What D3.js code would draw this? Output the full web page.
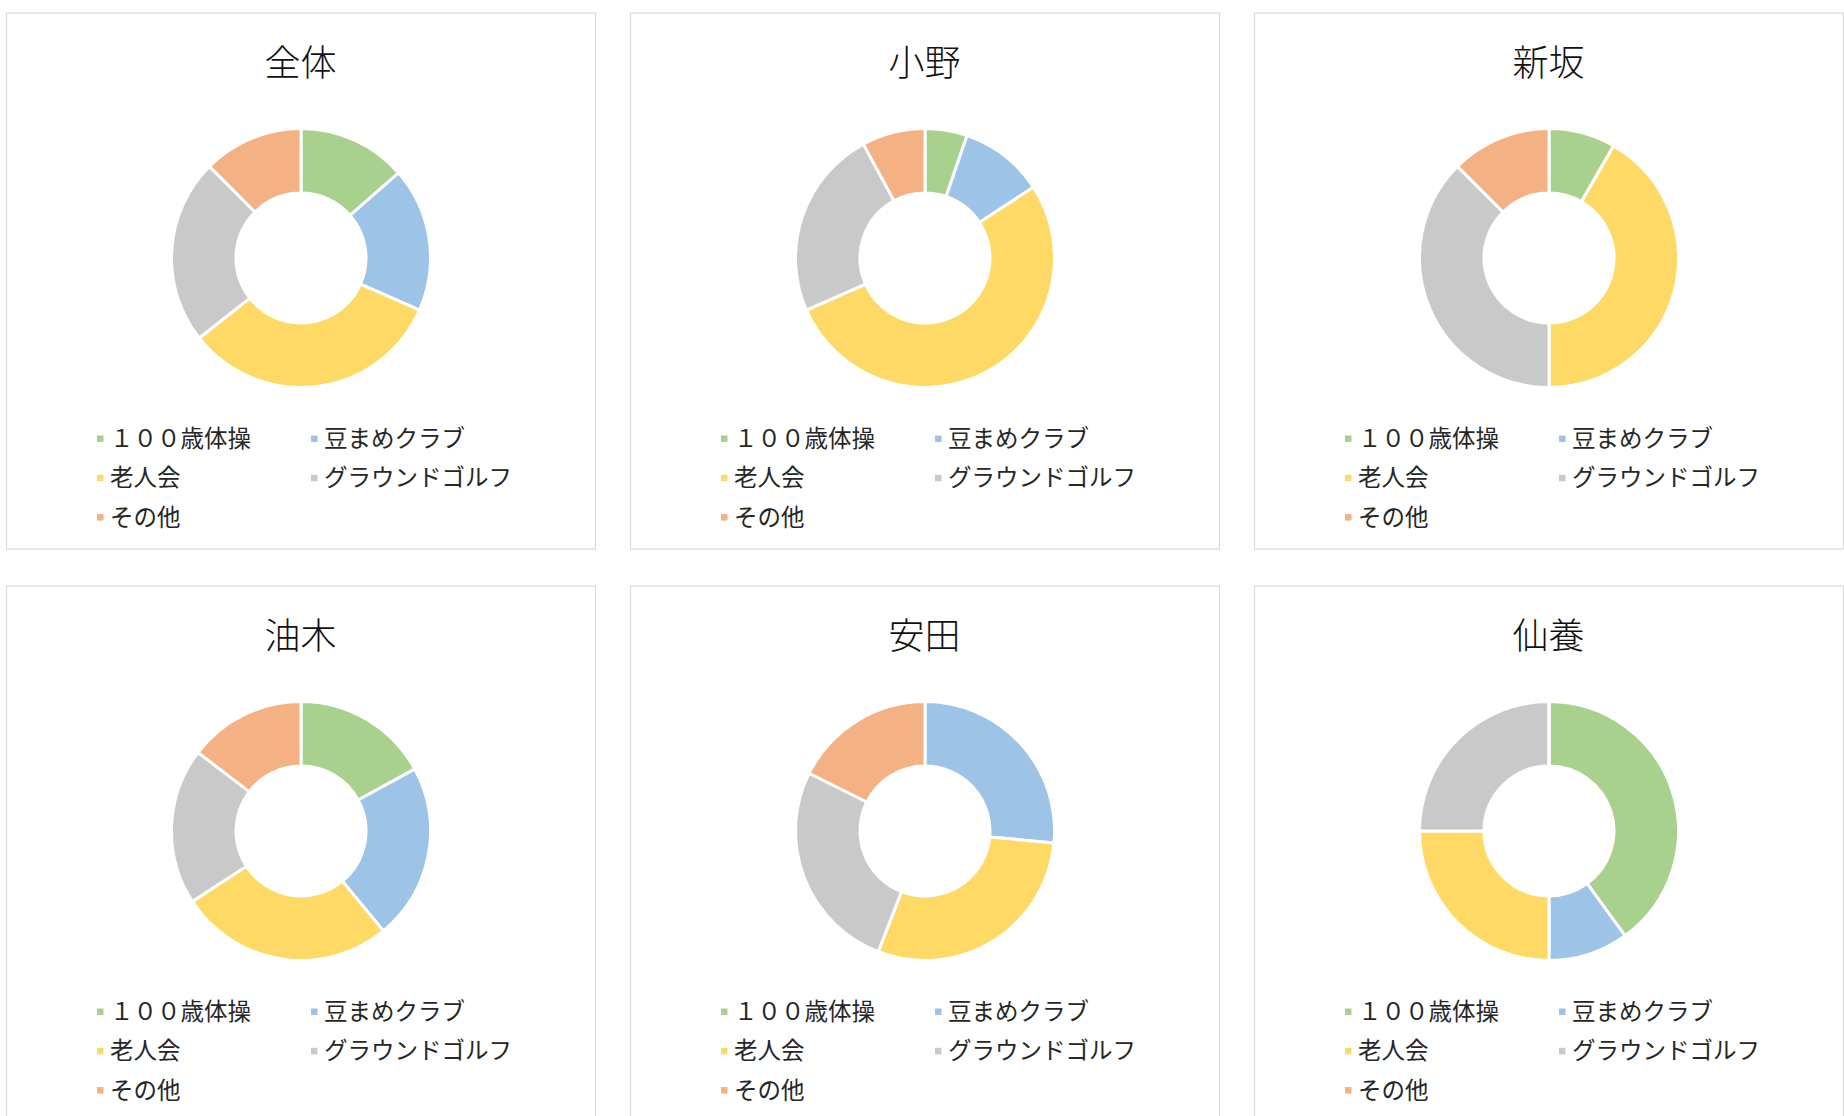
<!DOCTYPE html>
<html>
<head>
<meta charset="utf-8">
<script src="https://cdn.jsdelivr.net/npm/d3@7"></script>
<style>
  body { margin: 0; background: #fff; }
  text { font-family: "Noto Sans CJK JP", "Noto Sans", sans-serif; }
</style>
</head>
<body>
<svg id="chart" width="1844" height="1116"></svg>
<script>
// categories (legend order = slice order)
var categories = ["１００歳体操", "豆まめクラブ", "老人会", "グラウンドゴルフ", "その他"]
var colors = ["#A9D18E", "#9DC3E6", "#FFD966", "#C9C9C9", "#F4B183"]

var regions = ["全体", "小野", "新坂", "油木", "安田", "仙養"]

// values per region, same order as categories
var zentai   = [13.6, 18.0, 32.8, 23.1, 12.5]
var ono      = [2, 4, 20, 9, 3]
var shinsaka = [2, 0, 10, 9, 3]
var yuki     = [7, 9, 11, 8, 6]
var yasuda   = [0, 9, 10, 9, 6]
var senyo    = [8, 2, 5, 5, 0]

var seriesByRegion = [zentai, ono, shinsaka, yuki, yasuda, senyo]

var svg = d3.select("#chart")

var panelW = 589, panelH = 536
var panelX = 6, panelY = 12.5
var stepX = 624, stepY = 573

var pie = d3.pie().sort(null).value(d => d)
var arc = d3.arc().innerRadius(65).outerRadius(129.5)

regions.forEach(function(name, i){
	var col = i % 3, row = Math.floor(i / 3)
	var g = svg.append("g")
		.attr("transform", "translate(" + (panelX + col*stepX) + "," + (panelY + row*stepY) + ")")

	g.append("rect")
		.attr("x", 0.5).attr("y", 0.5)
		.attr("width", panelW).attr("height", panelH)
		.attr("fill", "#fff")
		.attr("stroke", "#D9D9D9")
		.attr("stroke-width", 1.2)

	g.append("text")
		.attr("x", panelW/2)
		.attr("y", 51)
		.attr("dy", "0.36em")
		.attr("text-anchor", "middle")
		.attr("font-size", 36)
		.attr("font-weight", 300)
		.attr("fill", "#111")
		.text(name)

	var donut = g.append("g").attr("transform", "translate(295,245.5)")
	donut.selectAll("path")
		.data(pie(seriesByRegion[i]))
		.join("path")
		.attr("d", arc)
		.attr("fill", (d, k) => colors[k])
		.attr("stroke", "#fff")
		.attr("stroke-width", 3)
		.attr("stroke-linejoin", "round")

	// legend, two columns
	var leg = g.append("g")
	categories.forEach(function(c, k){
		var lx = 94 + (k % 2) * 214
		var ly = 426 + Math.floor(k / 2) * 39.3
		leg.append("rect")
			.attr("x", lx - 3).attr("y", ly - 3)
			.attr("width", 6.5).attr("height", 6.5)
			.attr("fill", colors[k])
		leg.append("text")
			.attr("x", lx + 10)
			.attr("y", ly)
			.attr("dy", "0.36em")
			.attr("font-size", 23.5)
			.attr("fill", "#262626")
			.text(c)
	})
})
</script>
</body>
</html>
